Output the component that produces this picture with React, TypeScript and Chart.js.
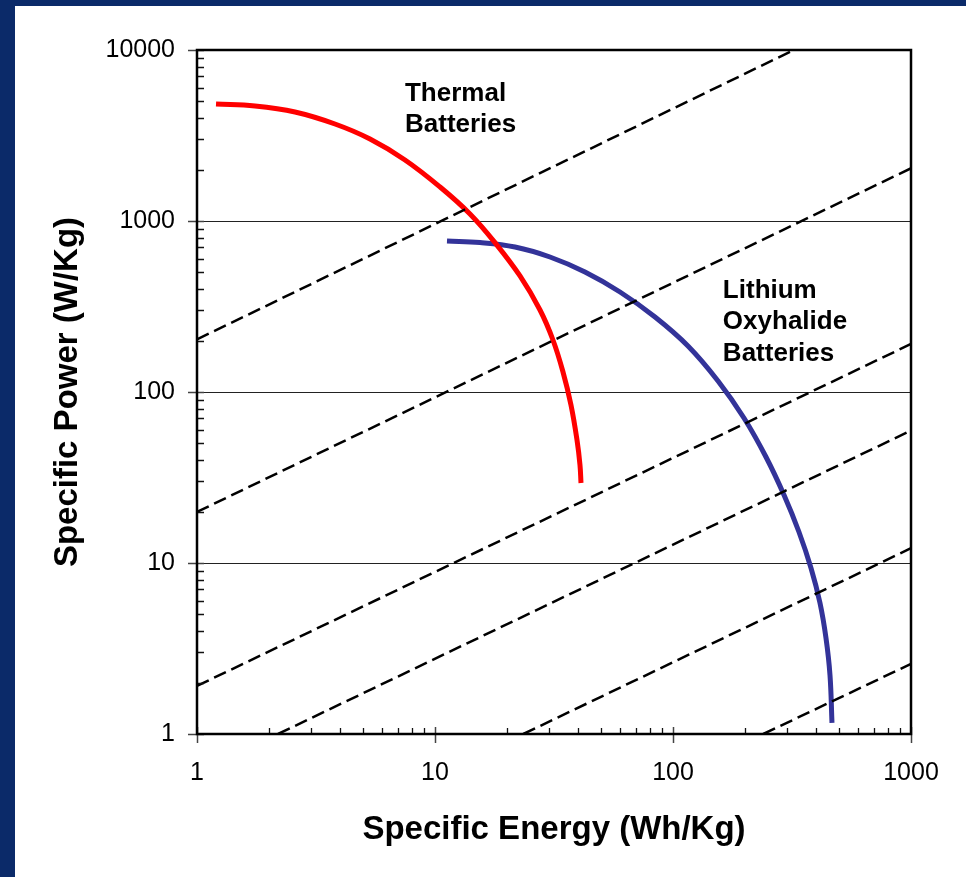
import React, { useEffect, useRef } from "react";
import { Chart, registerables } from "chart.js";

Chart.register(...registerables);

// ---------- data ----------
const THERMAL_ENERGY = [1.202, 1.753, 2.581, 3.8, 5.333, 7.481, 10.5, 14.03, 18.05, 22.76, 27.62, 31.31, 34.5, 37.27, 39.5, 40.66, 41.06];
const THERMAL_POWER = [4833, 4705, 4340, 3692, 3017, 2275, 1581, 1099, 733.8, 476.9, 301.7, 201.4, 130.9, 83.94, 52.41, 37.42, 29.37];

const LITHIUM_ENERGY = [11.23, 15.46, 21.69, 30.42, 42.68, 59.89, 84.03, 115.6, 154.6, 198.7, 245.9, 292.7, 338.3, 380.0, 414.6, 439.4, 456.7, 465.6];
const LITHIUM_POWER = [763.9, 748.6, 704.7, 616.0, 503.1, 384.4, 274.5, 185.8, 116.0, 70.47, 41.69, 24.98, 15.18, 9.35, 5.84, 3.64, 2.21, 1.16];

// dashed guide lines: start / end points
const GUIDE_ENERGY_START = [1, 1, 1, 2.19, 23.5, 239.5];
const GUIDE_POWER_START = [203, 19.9, 1.91, 1, 1, 1];
const GUIDE_ENERGY_END = [322, 1000, 1000, 1000, 1000, 1000];
const GUIDE_POWER_END = [10000, 2033, 191, 59.5, 12.2, 2.57];

const X_TICK_LABELS = ["1", "10", "100", "1000"];
const Y_TICK_LABELS = ["1", "10", "100", "1000", "10000"];

const THERMAL_LABEL = ["Thermal", "Batteries"];
const LITHIUM_LABEL = ["Lithium", "Oxyhalide", "Batteries"];

const X_TITLE = "Specific Energy (Wh/Kg)";
const Y_TITLE = "Specific Power (W/Kg)";

// ---------- styling ----------
const FONT = "'Liberation Sans', Arial, Helvetica, sans-serif";
const NAVY = "#0b2a69";

const isDecade = (v: number) => {
  const l = Math.log10(v);
  return Math.abs(l - Math.round(l)) < 1e-6;
};

const LABEL_ANCHORS = [
  { lines: THERMAL_LABEL, e: 7.48, p: 5036 },
  { lines: LITHIUM_LABEL, e: 162, p: 356 },
];

const axisDecorPlugin = {
  id: "axisDecor",
  afterDraw(chart: any) {
    const { ctx, chartArea: a, scales } = chart;
    const xs = scales.x;
    const ys = scales.y;
    ctx.save();

    // minor ticks (inside)
    ctx.strokeStyle = "#111";
    ctx.lineWidth = 1.3;
    ctx.beginPath();
    for (let d = xs.min; d < xs.max - 1e-9; d *= 10) {
      for (let k = 2; k <= 9; k++) {
        const px = Math.round(xs.getPixelForValue(k * d)) + 0.5;
        ctx.moveTo(px, a.bottom);
        ctx.lineTo(px, a.bottom - 6);
      }
    }
    for (let d = ys.min; d < ys.max - 1e-9; d *= 10) {
      for (let k = 2; k <= 9; k++) {
        const py = Math.round(ys.getPixelForValue(k * d)) + 0.5;
        ctx.moveTo(a.left, py);
        ctx.lineTo(a.left + 7, py);
      }
    }
    ctx.stroke();

    // major ticks (crossing)
    ctx.strokeStyle = "#444";
    ctx.lineWidth = 1.5;
    ctx.beginPath();
    for (let d = xs.min; d <= xs.max * 1.0001; d *= 10) {
      const px = Math.round(xs.getPixelForValue(d)) + 0.5;
      ctx.moveTo(px, a.bottom - 7);
      ctx.lineTo(px, a.bottom + 9);
    }
    for (let d = ys.min; d <= ys.max * 1.0001; d *= 10) {
      const py = Math.round(ys.getPixelForValue(d)) + 0.5;
      ctx.moveTo(a.left - 9, py);
      ctx.lineTo(a.left + 7, py);
    }
    ctx.stroke();

    // frame
    ctx.strokeStyle = "#000";
    ctx.lineWidth = 2.5;
    ctx.strokeRect(a.left, a.top, a.right - a.left, a.bottom - a.top);

    // annotations
    ctx.fillStyle = "#000";
    ctx.font = `bold 26px ${FONT}`;
    ctx.textAlign = "left";
    ctx.textBaseline = "alphabetic";
    LABEL_ANCHORS.forEach((lab) => {
      const x = xs.getPixelForValue(lab.e);
      const y = ys.getPixelForValue(lab.p);
      lab.lines.forEach((t, i) => ctx.fillText(t, x, y + i * 31.5));
    });

    ctx.restore();
  },
};

export default function App() {
  const ref = useRef<HTMLCanvasElement | null>(null);

  useEffect(() => {
    if (!ref.current) return;
    const guides = GUIDE_ENERGY_START.map((_, i) => ({
      label: `guide${i}`,
      data: [
        { x: GUIDE_ENERGY_START[i], y: GUIDE_POWER_START[i] },
        { x: GUIDE_ENERGY_END[i], y: GUIDE_POWER_END[i] },
      ],
      borderColor: "#000",
      borderWidth: 2.5,
      borderDash: [13, 6],
      pointRadius: 0,
      fill: false,
    }));

    const chart = new Chart(ref.current, {
      type: "line",
      data: {
        datasets: [
          ...guides,
          {
            label: "Thermal Batteries",
            data: THERMAL_ENERGY.map((x, i) => ({ x, y: THERMAL_POWER[i] })),
            borderColor: "#ff0000",
            borderWidth: 5,
            pointRadius: 0,
            tension: 0.4,
            fill: false,
          },
          {
            label: "Lithium Oxyhalide Batteries",
            data: LITHIUM_ENERGY.map((x, i) => ({ x, y: LITHIUM_POWER[i] })),
            borderColor: "#333399",
            borderWidth: 5,
            pointRadius: 0,
            tension: 0.4,
            fill: false,
          },
        ] as any,
      },
      options: {
        responsive: false,
        animation: false,
        devicePixelRatio: 1,
        layout: { padding: { left: 0, top: 50, right: 55, bottom: 0 } },
        plugins: {
          legend: { display: false },
          tooltip: { enabled: false },
        },
        scales: {
          x: {
            type: "logarithmic",
            min: 1,
            max: 1000,
            afterFit: (s: any) => {
              s.height = 143;
            },
            border: { display: false },
            grid: { display: false, drawTicks: false },
            ticks: {
              autoSkip: false,
              maxRotation: 0,
              minRotation: 0,
              padding: 24,
              color: "#000",
              font: { family: FONT, size: 25 },
              callback: (v: any) => {
                const n = Number(v);
                if (!isDecade(n)) return "";
                const idx = Math.round(Math.log10(n));
                return X_TICK_LABELS[idx] ?? "";
              },
            },
            title: {
              display: true,
              text: X_TITLE,
              color: "#000",
              font: { family: FONT, size: 33, weight: "bold" },
              padding: { top: 0, bottom: 27 },
            },
          },
          y: {
            type: "logarithmic",
            min: 1,
            max: 10000,
            afterFit: (s: any) => {
              s.width = 197;
            },
            border: { display: false },
            grid: {
              drawTicks: false,
              lineWidth: 1,
              color: (c: any) => {
                const v = c.tick ? c.tick.value : 0;
                return isDecade(v) && v > 1 && v < 10000 ? "#222" : "rgba(0,0,0,0)";
              },
            },
            ticks: {
              autoSkip: false,
              padding: 22,
              color: "#000",
              font: { family: FONT, size: 25 },
              callback: (v: any) => {
                const n = Number(v);
                if (!isDecade(n)) return "";
                const idx = Math.round(Math.log10(n));
                return Y_TICK_LABELS[idx] ?? "";
              },
            },
            title: {
              display: true,
              text: Y_TITLE,
              color: "#000",
              font: { family: FONT, size: 33, weight: "bold" },
              padding: { top: 48, bottom: 0 },
            },
          },
        },
      } as any,
      plugins: [axisDecorPlugin],
    });
    return () => chart.destroy();
  }, []);

  return (
    <div
      style={{
        position: "fixed",
        left: 0,
        top: 0,
        width: 966,
        height: 877,
        background: NAVY,
        overflow: "hidden",
      }}
    >
      <div
        style={{
          position: "absolute",
          left: 15,
          top: 6,
          right: 0,
          bottom: 0,
          background: "#fff",
        }}
      />
      <canvas
        ref={ref}
        width={966}
        height={877}
        style={{ position: "absolute", left: 0, top: 0, width: 966, height: 877, display: "block" }}
      />
    </div>
  );
}
